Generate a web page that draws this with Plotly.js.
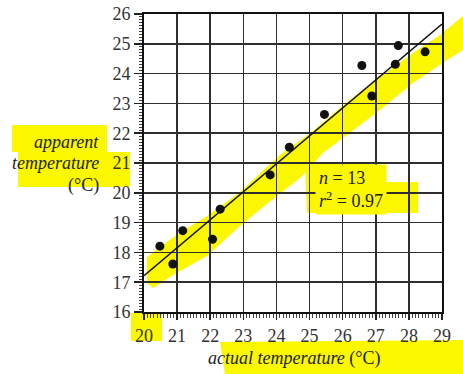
<!DOCTYPE html>
<html><head><meta charset="utf-8">
<script src="https://cdn.plot.ly/plotly-3.0.1.min.js"></script>
<style>html,body{margin:0;padding:0;background:#fff;}#chart{width:463px;height:374px;}</style>
</head><body><div id="chart"></div>
<script>
// ---- data ----
const actualTemp   = [20.48, 20.87, 21.17, 22.07, 22.30, 23.81, 24.39, 25.45, 26.88, 26.58, 27.59, 27.68, 28.49];
const apparentTemp = [18.21, 17.61, 18.73, 18.44, 19.45, 20.60, 21.53, 22.63, 23.25, 24.27, 24.31, 24.94, 24.73];
const fitX = [20, 29];
const fitY = [17.22, 25.66];
const statN = 13;
const statR2 = '0.97';
const xTickVals = [20,21,22,23,24,25,26,27,28,29];
const yTickVals = [16,17,18,19,20,21,22,23,24,25,26];

// ---- layout geometry (pixels) ----
const W = 463, H = 374;
const L = 144, R = 442, T = 14, B = 312;
const px = x => (x - L) / (R - L);
const py = y => (B - y) / (B - T);
const YEL = '#fbf700';
function poly(pts){
  return 'M' + pts.map(p => px(p[0]).toFixed(4) + ',' + py(p[1]).toFixed(4)).join(' L') + ' Z';
}
function hl(pts){
  return {type:'path', xref:'paper', yref:'paper', layer:'below', path: poly(pts),
          fillcolor: YEL, line:{width:0}};
}
const band = [[147,257],[175,236],[207,216],[240,192],[280,155],[313,131],[347,102],[380,77],[413,53],[440,35],[463,16],
              [463,50],[447,60],[413,83],[380,110],[347,135],[323,153],[300,178],[273,199],[240,226],[207,256],[173,275],[153,288],[147,283]];
const statBox = [[305,164],[377,162],[377,182],[418,182],[418,213],[307,213]];
const yLab1 = [[12,125],[107,125],[107,152],[130,152],[130,187],[18,187],[18,152],[12,152]];
const x20 = [[131,313],[162,313],[162,341],[131,341]];
const xLab = [[220,342],[463,340],[463,374],[225,374]];

const serif = "'Liberation Serif', 'Times New Roman', serif";
const txt = '#222';

const traces = [
  {x: fitX, y: fitY, mode:'lines', line:{color:'#111', width:1.5}, hoverinfo:'skip', showlegend:false, cliponaxis:true},
  {x: actualTemp, y: apparentTemp, mode:'markers', marker:{color:'#111', size:9}, showlegend:false, cliponaxis:false}
];

const axisCommon = {
  showgrid:true, gridcolor:'#2e2e2e', gridwidth:1.6,
  showline:true, linecolor:'#111', linewidth:2, mirror:true,
  ticks:'outside', tickwidth:1.5, tickcolor:'#222',
  tickfont:{family:serif, size:18, color:'#333'},
  zeroline:false, fixedrange:true,
  minor:{dtick:0.1, ticks:'outside', ticklen:3.5, tickwidth:1, tickcolor:'#444', showgrid:false}
};

const layout = {
  width:W, height:H,
  margin:{l:L, r:W-R, t:T, b:H-B, pad:0},
  paper_bgcolor:'#fff', plot_bgcolor:'rgba(0,0,0,0)',
  showlegend:false,
  xaxis: Object.assign({}, axisCommon, {range:[20,29], tickvals:xTickVals, ticklen:6}),
  yaxis: Object.assign({}, axisCommon, {range:[16,26], tickvals:yTickVals, ticklen:8}),
  shapes: [hl(band), hl(statBox), hl(yLab1), hl(x20), hl(xLab)],
  annotations: [
    {xref:'paper', yref:'paper', x:px(315), y:py(189.5), xanchor:'left', yanchor:'middle', align:'left',
     text:'<i>n</i> = ' + statN + '<br><i>r</i><sup>2</sup> = ' + statR2,
     showarrow:false, bgcolor:YEL, borderpad:3, font:{family:serif, size:18, color:txt}},
    {xref:'paper', yref:'paper', x:px(101), y:py(141.5), xanchor:'right', yanchor:'middle',
     text:'<i>apparent</i>', showarrow:false, font:{family:serif, size:18, color:txt}},
    {xref:'paper', yref:'paper', x:px(101), y:py(163.3), xanchor:'right', yanchor:'middle',
     text:'<i>temperature</i>', showarrow:false, font:{family:serif, size:18, color:txt}},
    {xref:'paper', yref:'paper', x:px(101), y:py(185), xanchor:'right', yanchor:'middle',
     text:'(°C)', showarrow:false, font:{family:serif, size:18, color:txt}},
    {xref:'paper', yref:'paper', x:px(294), y:py(358), xanchor:'center', yanchor:'middle',
     text:'<i>actual temperature</i> (°C)', showarrow:false, font:{family:serif, size:18, color:txt}}
  ]
};

Plotly.newPlot('chart', traces, layout, {displayModeBar:false, staticPlot:true});
</script></body></html>
